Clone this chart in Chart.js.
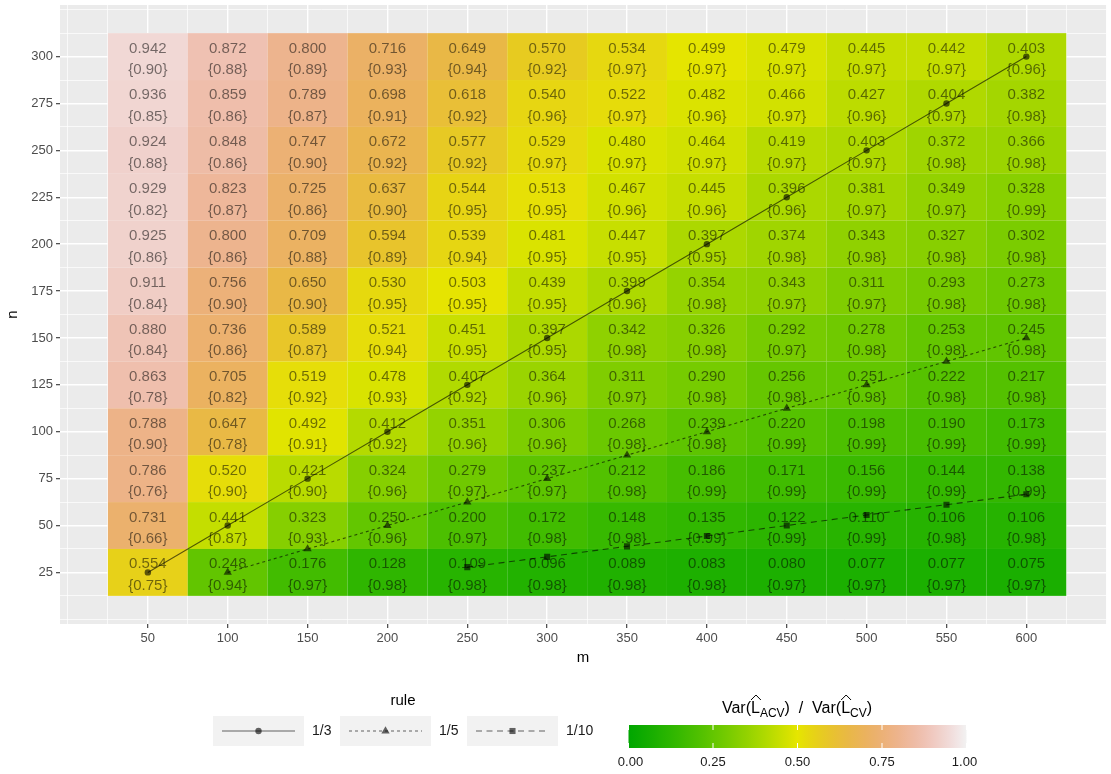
<!DOCTYPE html>
<html>
<head>
<meta charset="utf-8">
<script src="https://cdn.jsdelivr.net/npm/chart.js@4/dist/chart.umd.min.js"></script>
<style>
  html, body { margin: 0; padding: 0; background: #ffffff; }
</style>
</head>
<body>
<canvas id="myChart" width="1111" height="774"></canvas>
<script>
// columns (m) and rows (n, top to bottom)
const mValues = [50, 100, 150, 200, 250, 300, 350, 400, 450, 500, 550, 600];
const nValues = [300, 275, 250, 225, 200, 175, 150, 125, 100, 75, 50, 25];

// Var ratio per row (same order as nValues)
const ratio = [
  [0.942, 0.872, 0.800, 0.716, 0.649, 0.570, 0.534, 0.499, 0.479, 0.445, 0.442, 0.403],
  [0.936, 0.859, 0.789, 0.698, 0.618, 0.540, 0.522, 0.482, 0.466, 0.427, 0.404, 0.382],
  [0.924, 0.848, 0.747, 0.672, 0.577, 0.529, 0.480, 0.464, 0.419, 0.403, 0.372, 0.366],
  [0.929, 0.823, 0.725, 0.637, 0.544, 0.513, 0.467, 0.445, 0.396, 0.381, 0.349, 0.328],
  [0.925, 0.800, 0.709, 0.594, 0.539, 0.481, 0.447, 0.397, 0.374, 0.343, 0.327, 0.302],
  [0.911, 0.756, 0.650, 0.530, 0.503, 0.439, 0.399, 0.354, 0.343, 0.311, 0.293, 0.273],
  [0.880, 0.736, 0.589, 0.521, 0.451, 0.397, 0.342, 0.326, 0.292, 0.278, 0.253, 0.245],
  [0.863, 0.705, 0.519, 0.478, 0.407, 0.364, 0.311, 0.290, 0.256, 0.251, 0.222, 0.217],
  [0.788, 0.647, 0.492, 0.412, 0.351, 0.306, 0.268, 0.239, 0.220, 0.198, 0.190, 0.173],
  [0.786, 0.520, 0.421, 0.324, 0.279, 0.237, 0.212, 0.186, 0.171, 0.156, 0.144, 0.138],
  [0.731, 0.441, 0.323, 0.250, 0.200, 0.172, 0.148, 0.135, 0.122, 0.110, 0.106, 0.106],
  [0.554, 0.248, 0.176, 0.128, 0.109, 0.096, 0.089, 0.083, 0.080, 0.077, 0.077, 0.075]
];

// coverage shown in braces
const coverage = [
  [0.90, 0.88, 0.89, 0.93, 0.94, 0.92, 0.97, 0.97, 0.97, 0.97, 0.97, 0.96],
  [0.85, 0.86, 0.87, 0.91, 0.92, 0.96, 0.97, 0.96, 0.97, 0.96, 0.97, 0.98],
  [0.88, 0.86, 0.90, 0.92, 0.92, 0.97, 0.97, 0.97, 0.97, 0.97, 0.98, 0.98],
  [0.82, 0.87, 0.86, 0.90, 0.95, 0.95, 0.96, 0.96, 0.96, 0.97, 0.97, 0.99],
  [0.86, 0.86, 0.88, 0.89, 0.94, 0.95, 0.95, 0.95, 0.98, 0.98, 0.98, 0.98],
  [0.84, 0.90, 0.90, 0.95, 0.95, 0.95, 0.96, 0.98, 0.97, 0.97, 0.98, 0.98],
  [0.84, 0.86, 0.87, 0.94, 0.95, 0.95, 0.98, 0.98, 0.97, 0.98, 0.98, 0.98],
  [0.78, 0.82, 0.92, 0.93, 0.92, 0.96, 0.97, 0.98, 0.98, 0.98, 0.98, 0.98],
  [0.90, 0.78, 0.91, 0.92, 0.96, 0.96, 0.98, 0.98, 0.99, 0.99, 0.99, 0.99],
  [0.76, 0.90, 0.90, 0.96, 0.97, 0.97, 0.98, 0.99, 0.99, 0.99, 0.99, 0.99],
  [0.66, 0.87, 0.93, 0.96, 0.97, 0.98, 0.98, 0.99, 0.99, 0.99, 0.98, 0.98],
  [0.75, 0.94, 0.97, 0.98, 0.98, 0.98, 0.98, 0.98, 0.97, 0.97, 0.97, 0.97]
];

// rule lines
const rule13M = [50, 100, 150, 200, 250, 300, 350, 400, 450, 500, 550, 600];
const rule13N = [25, 50, 75, 100, 125, 150, 175, 200, 225, 250, 275, 300];
const rule15M = [100, 150, 200, 250, 300, 350, 400, 450, 500, 550, 600];
const rule15N = [25, 37.5, 50, 62.5, 75, 87.5, 100, 112.5, 125, 137.5, 150];
const rule110M = [250, 300, 350, 400, 450, 500, 550, 600];
const rule110N = [27.8, 33.3, 38.9, 44.4, 50, 55.6, 61.1, 66.7];

const ruleLabels = ['1/3', '1/5', '1/10'];

// tick labels
const xTicks = [50, 100, 150, 200, 250, 300, 350, 400, 450, 500, 550, 600];
const yTicks = [25, 50, 75, 100, 125, 150, 175, 200, 225, 250, 275, 300];
const barTicks = [0, 0.25, 0.5, 0.75, 1];

const FONT = 'Liberation Sans, Arial, Helvetica, sans-serif';
const lineCol = 'rgba(0,0,0,0.6)';

function hsv(h, s, v) {
  const c = v * s, hp = h / 60, x = c * (1 - Math.abs(hp % 2 - 1));
  let r = 0, g = 0, b = 0;
  if (hp < 1) { r = c; g = x; } else if (hp < 2) { r = x; g = c; } else { g = c; b = x; }
  const mm = v - c;
  return 'rgb(' + Math.round((r + mm) * 255) + ',' + Math.round((g + mm) * 255) + ',' + Math.round((b + mm) * 255) + ')';
}

// terrain-like palette, 0 = green, 0.5 = yellow, 1 = near white
function terrain(t) {
  if (t <= 0.5) return hsv(120 - 120 * t, 1, 0.65 + 0.5 * t);
  return hsv(60 - 120 * (t - 0.5), 1 - 2 * (t - 0.5), 0.9 + 0.1 * (t - 0.5));
}

function gridSteps(from, to, step) {
  const out = [];
  for (let v = from; v <= to + 1e-9; v += step) out.push(v);
  return out;
}

const tilePlugin = {
  id: 'tiles',
  beforeDraw(chart) {
    const a = chart.chartArea, ctx = chart.ctx;
    ctx.save();
    ctx.fillStyle = '#EBEBEB';
    ctx.fillRect(a.left, a.top, a.right - a.left, a.bottom - a.top);
    ctx.restore();
  },
  beforeDatasetsDraw(chart) {
    const xs = chart.scales.x, ys = chart.scales.y, ctx = chart.ctx;
    ctx.save();
    nValues.forEach((n, r) => {
      mValues.forEach((m, c) => {
        const x0 = xs.getPixelForValue(m - 25), x1 = xs.getPixelForValue(m + 25);
        const y0 = ys.getPixelForValue(n + 12.5), y1 = ys.getPixelForValue(n - 12.5);
        ctx.fillStyle = terrain(ratio[r][c]);
        ctx.fillRect(x0, y0, x1 - x0, y1 - y0);
      });
    });
    ctx.fillStyle = 'rgba(0,0,0,0.52)';
    ctx.font = '15px ' + FONT;
    ctx.textAlign = 'center';
    ctx.textBaseline = 'alphabetic';
    nValues.forEach((n, r) => {
      mValues.forEach((m, c) => {
        const x = xs.getPixelForValue(m), y = ys.getPixelForValue(n);
        ctx.fillText(ratio[r][c].toFixed(3), x, y - 4);
        ctx.fillText('{' + coverage[r][c].toFixed(2) + '}', x, y + 17.5);
      });
    });
    ctx.restore();
  },
  afterDraw(chart) {
    const ctx = chart.ctx, a = chart.chartArea;
    ctx.save();
    // axis titles
    ctx.fillStyle = '#000000';
    ctx.font = '15px ' + FONT;
    ctx.textAlign = 'center';
    ctx.textBaseline = 'middle';
    ctx.fillText('m', (a.left + a.right) / 2, 658);
    ctx.save();
    ctx.translate(13, (a.top + a.bottom) / 2);
    ctx.rotate(-Math.PI / 2);
    ctx.fillText('n', 0, 0);
    ctx.restore();

    // rule legend
    ctx.fillText('rule', 403, 701);
    const boxes = [213, 340, 467];
    const dashes = [[], [3, 3], [6, 4.5]];
    chart.data.datasets.forEach((ds, i) => {
      const bx = boxes[i];
      ctx.fillStyle = '#F2F2F2';
      ctx.fillRect(bx, 716, 91, 30);
      ctx.strokeStyle = lineCol;
      ctx.lineWidth = 1.1;
      ctx.setLineDash(dashes[i]);
      ctx.beginPath();
      ctx.moveTo(bx + 9, 731);
      ctx.lineTo(bx + 82, 731);
      ctx.stroke();
      ctx.setLineDash([]);
      ctx.fillStyle = lineCol;
      Chart.helpers.drawPoint(ctx, { pointStyle: ds.pointStyle, radius: ds.pointRadius, borderWidth: 0 }, bx + 45.5, 731);
      ctx.fillStyle = '#1A1A1A';
      ctx.font = '14px ' + FONT;
      ctx.textAlign = 'left';
      ctx.fillText(ruleLabels[i], bx + 99, 731);
    });

    // colour bar
    const bl = 628.5, br = 966.5, bt = 725, bb = 748;
    const grad = ctx.createLinearGradient(bl, 0, br, 0);
    for (let k = 0; k <= 40; k++) grad.addColorStop(k / 40, terrain(k / 40));
    ctx.fillStyle = grad;
    ctx.fillRect(bl, bt, br - bl, bb - bt);
    ctx.strokeStyle = '#FFFFFF';
    ctx.lineWidth = 1;
    ctx.fillStyle = '#1A1A1A';
    ctx.font = '13px ' + FONT;
    ctx.textAlign = 'center';
    barTicks.forEach(t => {
      const x = bl + t * (br - bl);
      ctx.beginPath();
      ctx.moveTo(x, bt); ctx.lineTo(x, bt + 5);
      ctx.moveTo(x, bb - 5); ctx.lineTo(x, bb);
      ctx.stroke();
      ctx.fillText(t.toFixed(2), x + (t === 0 ? 2 : t === 1 ? -2 : 0), 762);
    });

    // colour bar title: Var(L^_ACV) / Var(L^_CV)
    const parts = [
      ['Var(', 16, 0], ['L', 16, 0, true], ['ACV', 12, 4], [')  /  Var(', 16, 0],
      ['L', 16, 0, true], ['CV', 12, 4], [')', 16, 0]
    ];
    let total = 0;
    parts.forEach(p => { ctx.font = p[1] + 'px ' + FONT; total += ctx.measureText(p[0]).width; });
    let x = 797 - total / 2;
    const base = 713;
    ctx.textAlign = 'left';
    ctx.textBaseline = 'alphabetic';
    ctx.fillStyle = '#000000';
    ctx.strokeStyle = '#000000';
    parts.forEach(p => {
      ctx.font = p[1] + 'px ' + FONT;
      const w = ctx.measureText(p[0]).width;
      ctx.fillText(p[0], x, base + p[2]);
      if (p[3]) {
        ctx.lineWidth = 1;
        ctx.beginPath();
        ctx.moveTo(x, base - 13);
        ctx.lineTo(x + w / 2 + 0.5, base - 18);
        ctx.lineTo(x + w + 1, base - 13);
        ctx.stroke();
      }
      x += w;
    });
    ctx.restore();
  }
};

function axisCfg(min, max, steps, majors, fit) {
  const isMajor = v => majors.includes(v);
  return {
    type: 'linear',
    min: min,
    max: max,
    afterBuildTicks: s => { s.ticks = steps.map(v => ({ value: v })); },
    afterFit: s => {
      fit(s);
      s.paddingTop = 0; s.paddingBottom = 0; s.paddingLeft = 0; s.paddingRight = 0;
    },
    border: { display: false },
    grid: {
      color: '#FFFFFF',
      lineWidth: c => (c.tick && isMajor(c.tick.value)) ? 1.4 : 0.7,
      drawTicks: true,
      tickLength: 4,
      tickWidth: 1.1,
      tickColor: c => (c.tick && isMajor(c.tick.value)) ? '#333333' : 'rgba(0,0,0,0)'
    },
    ticks: {
      autoSkip: false,
      maxRotation: 0,
      minRotation: 0,
      padding: 3,
      color: '#4D4D4D',
      font: { family: FONT, size: 13 },
      callback: v => isMajor(v) ? String(v) : ''
    }
  };
}

const ctx = document.getElementById('myChart');

new Chart(ctx, {
  type: 'scatter',
  data: {
    datasets: [
      {
        label: ruleLabels[0],
        data: rule13M.map((m, i) => ({ x: m, y: rule13N[i] })),
        showLine: true, borderColor: lineCol, backgroundColor: lineCol,
        borderWidth: 1.1, pointStyle: 'circle', pointRadius: 3.2, pointBorderWidth: 0
      },
      {
        label: ruleLabels[1],
        data: rule15M.map((m, i) => ({ x: m, y: rule15N[i] })),
        showLine: true, borderColor: lineCol, backgroundColor: lineCol, borderDash: [3, 3],
        borderWidth: 1.1, pointStyle: 'triangle', pointRadius: 4.8, pointBorderWidth: 0
      },
      {
        label: ruleLabels[2],
        data: rule110M.map((m, i) => ({ x: m, y: rule110N[i] })),
        showLine: true, borderColor: lineCol, backgroundColor: lineCol, borderDash: [6, 4.5],
        borderWidth: 1.1, pointStyle: 'rect', pointRadius: 4.3, pointBorderWidth: 0
      }
    ]
  },
  options: {
    responsive: false,
    animation: false,
    events: [],
    layout: { padding: { top: 5, right: 0, bottom: 120, left: 0 } },
    scales: {
      x: axisCfg(-5, 650, gridSteps(0, 650, 25), xTicks, s => { s.height = 30; }),
      y: axisCfg(-2.5, 327.5, gridSteps(0, 325, 12.5), yTicks, s => { s.width = 60; })
    },
    plugins: {
      legend: { display: false },
      tooltip: { enabled: false }
    }
  },
  plugins: [tilePlugin]
});
</script>
</body>
</html>
